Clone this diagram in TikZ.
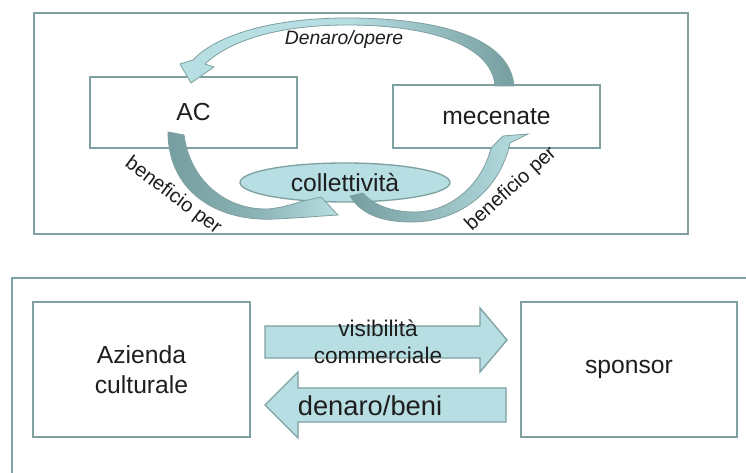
\documentclass[tikz,border=0pt]{standalone}
\usepackage{fontspec}
\setmainfont{Liberation Sans}
\usetikzlibrary{shapes.geometric}
\definecolor{frame}{RGB}{127,160,160}
\definecolor{lightc}{RGB}{183,222,226}
\definecolor{darkc}{RGB}{118,158,160}
\definecolor{ink}{RGB}{30,30,30}
\begin{document}
\begin{tikzpicture}[x=0.75pt,y=-0.75pt,
  box/.style={draw=frame, line width=1.5pt, fill=white, inner sep=0pt, outer sep=0pt},
  big/.style={font=\fontsize{18.5}{22.5}\selectfont, text=ink, align=center},
  small/.style={font=\fontsize{15}{18}\selectfont, text=ink},
  ribbon/.style={draw=frame, line width=0.6pt},
  blockarrow/.style={draw=frame, line width=1pt, fill=lightc}]
\useasboundingbox (0,0) rectangle (746,473);
\fill[white] (0,0) rectangle (746,473);

% top frame
\node[box, minimum width=490.5pt, minimum height=165.75pt] (topframe) at (361,123.5) {};
% bottom frame (open to right and bottom)
\draw[frame, line width=1.5pt] (12,473) -- (12,278) -- (746,278);

% boxes
\node[box, minimum width=155.25pt, minimum height=53.25pt] (ac) at (193.5,112.5) {};
\node[big] at (ac.center) {AC};
\node[box, minimum width=155.25pt, minimum height=47.25pt] (mec) at (496.5,116.5) {};
\node[big] at (mec.center) {mecenate};
\node[box, minimum width=162.75pt, minimum height=101.25pt] (az) at (141.5,369.5) {};
\node[big] at (az.center) {Azienda\\culturale};
\node[box, minimum width=162pt, minimum height=101.25pt] (sp) at (629,369.5) {};
\node[big] at (sp.center) {sponsor};

% collettivita ellipse
\node[ellipse, draw=frame, line width=1pt, fill=lightc, minimum width=157.5pt, minimum height=29.25pt, inner sep=0pt] (coll) at (345,182.5) {};

% Denaro/opere curved arrow (mecenate -> AC)
\path[ribbon, left color=lightc, right color=darkc, middle color=lightc]
  (495,86) .. controls (492,45) and (430,25) .. (347,25)
  .. controls (275,25) and (228,42) .. (205,64)
  -- (214,67) -- (191,83) -- (180,64) -- (193,60)
  .. controls (215,36) and (270,18) .. (347,18)
  .. controls (440,18) and (510,38) .. (514,86) -- cycle;

% beneficio per: AC -> collettivita
\path[ribbon, left color=darkc, right color=lightc, middle color=darkc!70!lightc]
  (168,132) .. controls (168,190) and (215,222) .. (275,219)
  .. controls (300,218) and (320,216) .. (338,215)
  -- (321,197) -- (303,201)
  .. controls (290,205) and (280,208) .. (268,209)
  .. controls (225,210) and (190,180) .. (184,135) -- cycle;

% beneficio per: collettivita -> mecenate
\path[ribbon, left color=darkc, right color=lightc, middle color=darkc!50!lightc]
  (350,196) .. controls (362,216) and (385,222) .. (412,222)
  .. controls (460,222) and (500,190) .. (510,143)
  -- (528,134) -- (503,136) -- (491,148)
  .. controls (482,185) and (450,212) .. (415,212)
  .. controls (395,212) and (375,207) .. (363,193) -- cycle;

\node[big] at (coll.center) {collettività};

% labels of curved arrows
\node[small, font=\fontsize{14.5}{17}\selectfont\itshape] (lden) at (344,40) {Denaro/opere};
\node[small, rotate=-37] (lb1) at (173,196) {beneficio per};
\node[small, rotate=42] (lb2) at (511,189) {beneficio per};

% block arrows
\path[blockarrow] (265,326) -- (480,326) -- (480,308) -- (507,340) -- (480,372) -- (480,358) -- (265,358) -- cycle;
\path[blockarrow] (506,388) -- (298,388) -- (298,372) -- (265,405) -- (298,438) -- (298,422) -- (506,422) -- cycle;
\node[font=\fontsize{17}{20}\selectfont, text=ink, align=center] (lvis) at (378,342) {visibilità\\commerciale};
\node[font=\fontsize{20.5}{24}\selectfont, text=ink] (lden2) at (370,406) {denaro/beni};
\end{tikzpicture}
\end{document}
